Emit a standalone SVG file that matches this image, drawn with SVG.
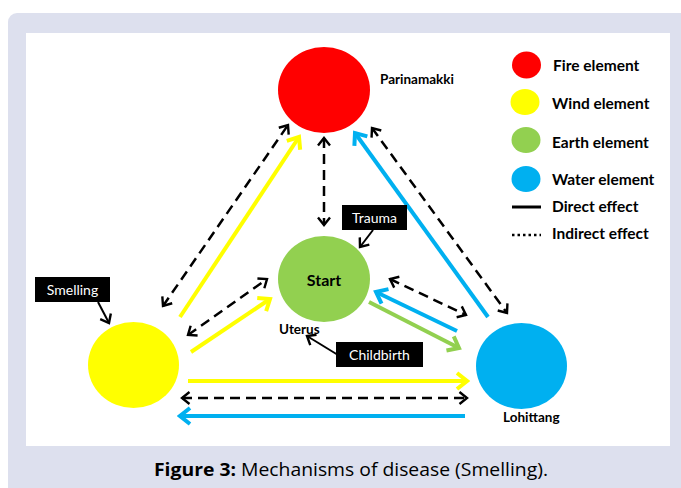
<svg xmlns="http://www.w3.org/2000/svg" width="681" height="488" viewBox="0 0 681 488">
<style>
.lbl{font-family:Lato,"Open Sans","Liberation Sans",sans-serif;font-weight:bold;fill:#000}
.leg{font-family:Lato,"Open Sans","Liberation Sans",sans-serif;font-weight:bold;font-size:15.5px;fill:#000}
.box{fill:#000}
.boxt{font-family:Lato,"Open Sans","Liberation Sans",sans-serif;font-size:14px;fill:#fff;text-anchor:middle}
.dash{fill:none;stroke:#000;stroke-width:2.5;stroke-dasharray:10,6}
.yel{fill:none;stroke:#ffff00;stroke-width:4}
.blu{fill:none;stroke:#00b0f0;stroke-width:4}
.grn{fill:none;stroke:#92d050;stroke-width:4}
.thin{fill:none;stroke:#000;stroke-width:2}
</style>
<defs>
<marker id="mY" viewBox="0 0 20 20" refX="17" refY="10" markerWidth="20" markerHeight="20" markerUnits="userSpaceOnUse" orient="auto-start-reverse"><path d="M7,2 L17,10 L7,18" fill="none" stroke="#ffff00" stroke-width="4"/></marker>
<marker id="mB" viewBox="0 0 20 20" refX="17" refY="10" markerWidth="20" markerHeight="20" markerUnits="userSpaceOnUse" orient="auto-start-reverse"><path d="M7,2 L17,10 L7,18" fill="none" stroke="#00b0f0" stroke-width="4"/></marker>
<marker id="mG" viewBox="0 0 20 20" refX="17" refY="10" markerWidth="20" markerHeight="20" markerUnits="userSpaceOnUse" orient="auto-start-reverse"><path d="M7,2 L17,10 L7,18" fill="none" stroke="#92d050" stroke-width="4"/></marker>
<marker id="mK" viewBox="0 0 16 16" refX="13" refY="8" markerWidth="16" markerHeight="16" markerUnits="userSpaceOnUse" orient="auto-start-reverse"><path d="M5.5,2 L13,8 L5.5,14" fill="none" stroke="#000" stroke-width="2.4" stroke-dasharray="none"/></marker>
</defs>
<rect x="8" y="13" width="700" height="500" rx="9" fill="#dde0ee"/>
<rect x="26" y="33" width="644" height="413" fill="#ffffff"/>

<g id="connectors">
<line class="dash" x1="163" y1="306" x2="288" y2="125" marker-start="url(#mK)" marker-end="url(#mK)"/>
<line class="yel" x1="180" y1="317" x2="299" y2="137" marker-end="url(#mY)"/>
<line class="dash" x1="324" y1="138" x2="324" y2="225" marker-start="url(#mK)" marker-end="url(#mK)"/>
<line class="blu" x1="488" y1="317" x2="355" y2="133" marker-end="url(#mB)"/>
<line class="dash" x1="372" y1="128" x2="507" y2="313" marker-start="url(#mK)" marker-end="url(#mK)"/>
<line class="dash" x1="188" y1="335" x2="267" y2="279" marker-start="url(#mK)" marker-end="url(#mK)"/>
<line class="yel" x1="191" y1="352" x2="270" y2="299" marker-end="url(#mY)"/>
<line class="dash" x1="390" y1="279" x2="466" y2="315" marker-start="url(#mK)" marker-end="url(#mK)"/>
<line class="blu" x1="457" y1="331" x2="376" y2="292" marker-end="url(#mB)"/>
<line class="grn" x1="369" y1="302" x2="459" y2="348" marker-end="url(#mG)"/>
<line class="yel" x1="188" y1="381" x2="467" y2="381" marker-end="url(#mY)"/>
<line class="dash" x1="182" y1="398" x2="467" y2="398" marker-start="url(#mK)" marker-end="url(#mK)"/>
<line class="blu" x1="465" y1="416" x2="180" y2="416" marker-end="url(#mB)"/>
<line class="thin" x1="373" y1="230" x2="360" y2="247" marker-end="url(#mK)"/>
<line class="thin" x1="98" y1="302" x2="109" y2="323" marker-end="url(#mK)"/>
<line class="thin" x1="338" y1="355" x2="307" y2="336" marker-end="url(#mK)"/>
</g>

<g id="fire">
<ellipse cx="324" cy="90" rx="46" ry="43" fill="#ff0000"/>
<text class="lbl" x="380" y="84" font-size="13.5">Parinamakki</text>
</g>
<g id="earth">
<ellipse cx="324" cy="279" rx="46" ry="43" fill="#92d050"/>
<text class="lbl" x="324" y="285.5" font-size="16" text-anchor="middle">Start</text>
<text class="lbl" x="279" y="333.5" font-size="13.5">Uterus</text>
</g>
<g id="wind">
<ellipse cx="133.5" cy="365" rx="45.5" ry="43" fill="#ffff00"/>
</g>
<g id="water">
<ellipse cx="521.5" cy="366" rx="45.5" ry="43" fill="#00b0f0"/>
<text class="lbl" x="503" y="421.5" font-size="13.5">Lohittang</text>
</g>

<g id="trauma">
<rect class="box" x="342" y="205" width="65" height="25"/>
<text class="boxt" x="374.5" y="222.5">Trauma</text>
</g>
<g id="smelling">
<rect class="box" x="35" y="277" width="75" height="25"/>
<text class="boxt" x="72.5" y="294.5">Smelling</text>
</g>
<g id="childbirth">
<rect class="box" x="336" y="342" width="87" height="25"/>
<text class="boxt" x="379.5" y="359.5">Childbirth</text>
</g>

<g id="legend">
<ellipse cx="526.5" cy="65" rx="14.5" ry="13.5" fill="#ff0000"/>
<text class="leg" x="553" y="70.5">Fire element</text>
<ellipse cx="525" cy="102" rx="14.5" ry="13" fill="#ffff00"/>
<text class="leg" x="552" y="108.5">Wind element</text>
<ellipse cx="526" cy="140" rx="14.5" ry="13" fill="#92d050"/>
<text class="leg" x="552" y="147.5">Earth element</text>
<ellipse cx="526" cy="179" rx="14.5" ry="13" fill="#00b0f0"/>
<text class="leg" x="552" y="184.5">Water element</text>
<line x1="512" y1="207" x2="541" y2="207" stroke="#000" stroke-width="3"/>
<text class="leg" x="552" y="211.5">Direct effect</text>
<line x1="512" y1="235" x2="541" y2="235" stroke="#000" stroke-width="2.5" stroke-dasharray="2.5,3"/>
<text class="leg" x="552" y="238.5">Indirect effect</text>
</g>

<text x="154" y="476" font-family="'Open Sans','Noto Sans','Liberation Sans',sans-serif" font-size="18" fill="#000" textLength="394" lengthAdjust="spacingAndGlyphs"><tspan font-weight="bold">Figure 3:</tspan> Mechanisms of disease (Smelling).</text>
</svg>
